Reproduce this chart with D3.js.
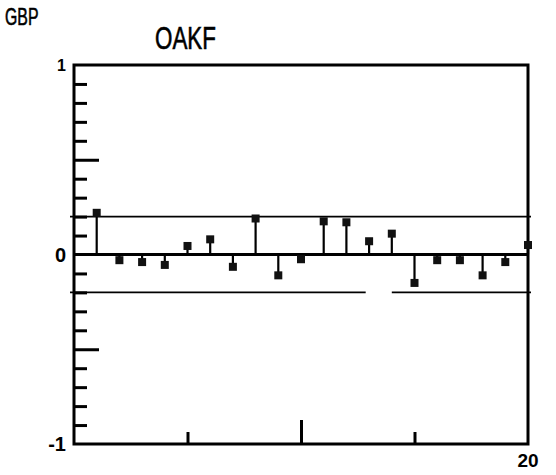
<!DOCTYPE html>
<html>
<head>
<meta charset="utf-8">
<script src="https://cdn.jsdelivr.net/npm/d3@7"></script>
<style>
  body { margin: 0; background: #fff; }
  svg { display: block; }
  .tick line { stroke: #000; stroke-width: 3; }
  .lbl { font-family: "Liberation Sans", Arial, sans-serif; font-weight: bold; fill: #000; }
  .title { font-family: "Liberation Sans", Arial, sans-serif; fill: #000; stroke: #000; stroke-width: 0.6; }
</style>
</head>
<body>
<div id="chart"></div>
<script>
// autocorrelations by lag
const lags = [1, 2, 3, 4, 5, 6, 7, 8, 9, 10, 11, 12, 13, 14, 15, 16, 17, 18, 19, 20];
const acf = [0.22, -0.03, -0.04, -0.055, 0.045, 0.08, -0.065, 0.19, -0.11, -0.025,
             0.175, 0.17, 0.07, 0.11, -0.15, -0.03, -0.03, -0.11, -0.04, 0.05];
const bandLimit = 0.2;
const yMinorTicks = [-0.9, -0.8, -0.7, -0.6, -0.4, -0.3, -0.2, -0.1, 0.1, 0.2, 0.3, 0.4, 0.6, 0.7, 0.8, 0.9];
const yMajorTicks = [-0.5, 0.5];
const xMinorTicks = [5, 15];
const xMajorTicks = [10];
const yLabels = [{v: 1, t: "1", s: 16}, {v: 0, t: "0", s: 20}, {v: -1, t: "-1", s: 20}];
const xLabel = {v: 20, t: "20"};

const width = 556, height = 475;
const margin = {top: 65, right: 28, bottom: 31, left: 74};

const svg = d3.select("#chart").append("svg")
    .attr("width", width)
    .attr("height", height);

const x = d3.scaleLinear().domain([0, 20]).range([margin.left, width - margin.right]);
const y = d3.scaleLinear().domain([-1, 1]).range([height - margin.bottom, margin.top]);

// titles (narrow plotter lettering, squeezed horizontally)
svg.append("text").attr("class", "title")
    .attr("transform", "translate(5,25) scale(0.66,1)")
    .attr("font-size", 24)
    .text("GBP");
svg.append("text").attr("class", "title")
    .attr("transform", "translate(155,49) scale(0.7,1)")
    .attr("font-size", 32)
    .text("OAKF");

// left inner ticks
svg.append("g")
    .attr("transform", `translate(${x(0)},0)`)
    .call(d3.axisRight(y).tickValues(yMinorTicks).tickSize(13).tickFormat(""))
    .call(g => g.select(".domain").remove());
svg.append("g")
    .attr("transform", `translate(${x(0)},0)`)
    .call(d3.axisRight(y).tickValues(yMajorTicks).tickSize(25).tickFormat(""))
    .call(g => g.select(".domain").remove());

// bottom inner ticks
svg.append("g")
    .attr("transform", `translate(0,${y(-1)})`)
    .call(d3.axisTop(x).tickValues(xMinorTicks).tickSize(12).tickFormat(""))
    .call(g => g.select(".domain").remove());
svg.append("g")
    .attr("transform", `translate(0,${y(-1)})`)
    .call(d3.axisTop(x).tickValues(xMajorTicks).tickSize(24).tickFormat(""))
    .call(g => g.select(".domain").remove());

// confidence band lines
svg.append("line")
    .attr("x1", x(0) - 4).attr("x2", x(20) + 3)
    .attr("y1", y(bandLimit)).attr("y2", y(bandLimit))
    .attr("stroke", "#000").attr("stroke-width", 1.6);
svg.append("line")
    .attr("x1", x(0) - 4).attr("x2", x(20) + 3)
    .attr("y1", y(-bandLimit)).attr("y2", y(-bandLimit))
    .attr("stroke", "#000").attr("stroke-width", 1.6)
    .attr("stroke-dasharray", `${x(12.85) - x(0) + 4},${x(14.0) - x(12.85)},1000`);

// zero line
svg.append("line")
    .attr("x1", x(0)).attr("x2", x(20))
    .attr("y1", y(0)).attr("y2", y(0))
    .attr("stroke", "#000").attr("stroke-width", 3);

// frame
svg.append("rect")
    .attr("x", x(0)).attr("y", y(1))
    .attr("width", x(20) - x(0)).attr("height", y(-1) - y(1))
    .attr("fill", "none").attr("stroke", "#000").attr("stroke-width", 3);

// stems and markers
const pts = lags.map((l, i) => ({lag: l, v: acf[i]}));
svg.selectAll(".stem").data(pts).join("line")
    .attr("class", "stem")
    .attr("x1", d => x(d.lag)).attr("x2", d => x(d.lag))
    .attr("y1", y(0)).attr("y2", d => y(d.v))
    .attr("stroke", "#000").attr("stroke-width", 2.2);
svg.selectAll(".mark").data(pts).join("rect")
    .attr("class", "mark")
    .attr("x", d => x(d.lag) - 4).attr("y", d => y(d.v) - 4)
    .attr("width", 8).attr("height", 8)
    .attr("fill", "#111");

// axis labels
svg.selectAll(".ylbl").data(yLabels).join("text")
    .attr("class", "lbl ylbl")
    .attr("x", x(0) - 8).attr("y", d => y(d.v) + d.s * 0.36)
    .attr("text-anchor", "end")
    .attr("font-size", d => d.s)
    .text(d => d.t);
svg.append("text").attr("class", "lbl")
    .attr("x", x(xLabel.v)).attr("y", y(-1) + 23)
    .attr("text-anchor", "middle")
    .attr("font-size", 19)
    .text(xLabel.t);
</script>
</body>
</html>
